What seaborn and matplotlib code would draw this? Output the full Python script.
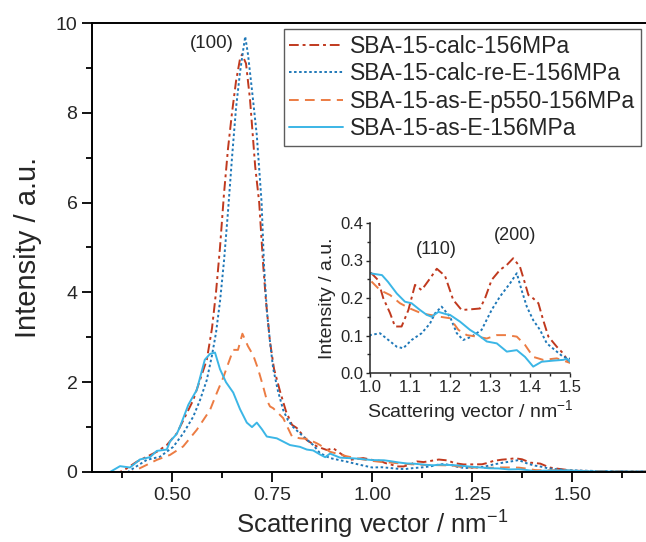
import numpy as np
import pandas as pd
import matplotlib
matplotlib.use("Agg")
import matplotlib.pyplot as plt
from matplotlib.ticker import MultipleLocator, FormatStrFormatter
import seaborn as sns

# SAXS curves (x in nm^-1, intensity in a.u.)
calc_x = [0.30, 0.37, 0.387, 0.412, 0.437, 0.462, 0.487, 0.512, 0.537, 0.553, 0.57,
          0.587, 0.60, 0.61, 0.62, 0.63, 0.64, 0.65, 0.66, 0.67, 0.675, 0.685, 0.695,
          0.708, 0.718, 0.728, 0.735, 0.745, 0.755, 0.77, 0.785, 0.80, 0.812, 0.837,
          0.862, 0.887, 0.903, 0.92, 0.945, 0.978, 1.0, 1.02, 1.033, 1.05, 1.0625,
          1.079, 1.096, 1.1125, 1.129, 1.15, 1.167, 1.1875, 1.208, 1.229, 1.254,
          1.275, 1.2875, 1.304, 1.325, 1.342, 1.358, 1.375, 1.3875, 1.396, 1.408,
          1.421, 1.433, 1.446, 1.467, 1.483, 1.496, 1.52, 1.55, 1.6, 1.65, 1.7]
calc_y = [0, 0, 0.08, 0.23, 0.34, 0.45, 0.6, 0.86, 1.31, 1.6, 2.05,
          2.5, 3.2, 4.0, 5.0, 6.2, 7.2, 8.0, 8.7, 9.2, 9.3, 9.1, 8.3,
          6.8, 6.0, 4.6, 3.8, 2.9, 2.3, 1.8, 1.35, 1.05, 0.98, 0.71,
          0.57, 0.49, 0.53, 0.42, 0.27, 0.31, 0.27, 0.248, 0.2, 0.16, 0.124,
          0.124, 0.168, 0.235, 0.221, 0.252, 0.278, 0.259, 0.195, 0.168, 0.17,
          0.172, 0.199, 0.248, 0.275, 0.288, 0.306, 0.283, 0.239, 0.208, 0.199,
          0.186, 0.141, 0.097, 0.07, 0.052, 0.03, 0.025, 0.02, 0.015, 0.01, 0.01]

re_x = [0.30, 0.39, 0.403, 0.437, 0.47, 0.503, 0.528, 0.553, 0.57, 0.587, 0.60,
        0.61, 0.62, 0.63, 0.64, 0.65, 0.66, 0.67, 0.678, 0.683, 0.69, 0.70, 0.712,
        0.724, 0.73, 0.737, 0.745, 0.753, 0.765, 0.778, 0.79, 0.803, 0.828, 0.853,
        0.87, 0.895, 0.937, 0.97, 1.0, 1.025, 1.046, 1.067, 1.083, 1.104, 1.129,
        1.15, 1.1625, 1.179, 1.2, 1.217, 1.233, 1.254, 1.279, 1.304, 1.325, 1.35,
        1.367, 1.379, 1.392, 1.408, 1.425, 1.442, 1.467, 1.483, 1.5, 1.53, 1.57,
        1.62, 1.7]
re_y = [0, 0, 0.08, 0.27, 0.34, 0.56, 0.86, 1.23, 1.6, 2.05, 2.6,
        3.1, 3.8, 4.7, 5.8, 7.0, 8.1, 8.9, 9.4, 9.7, 9.3, 8.5, 7.5,
        6.0, 4.6, 3.6, 2.9, 2.3, 1.8, 1.38, 1.15, 1.0, 0.79, 0.6,
        0.42, 0.31, 0.23, 0.16, 0.101, 0.106, 0.088, 0.07, 0.066, 0.088, 0.106,
        0.132, 0.159, 0.177, 0.15, 0.106, 0.088, 0.097, 0.115, 0.168, 0.204, 0.239,
        0.266, 0.221, 0.177, 0.141, 0.115, 0.079, 0.057, 0.043, 0.038, 0.03, 0.02,
        0.012, 0.01]

p550_x = [0.30, 0.40, 0.428, 0.462, 0.495, 0.528, 0.562, 0.595, 0.612, 0.628, 0.64,
          0.653, 0.665, 0.676, 0.69, 0.703, 0.715, 0.728, 0.737, 0.745, 0.753, 0.778,
          0.80, 0.82, 0.837, 0.862, 0.87, 0.895, 0.937, 0.97, 1.0, 1.025, 1.05,
          1.075, 1.1, 1.129, 1.15, 1.175, 1.2, 1.221, 1.242, 1.267, 1.292, 1.317,
          1.342, 1.367, 1.3875, 1.408, 1.433, 1.467, 1.5, 1.53, 1.57, 1.62, 1.7]
p550_y = [0, 0, 0.12, 0.27, 0.38, 0.57, 0.94, 1.38, 1.76, 2.1, 2.4,
          2.72, 2.72, 3.08, 2.8, 2.6, 2.3, 1.9, 1.6, 1.46, 1.42, 1.2,
          0.79, 0.75, 0.74, 0.64, 0.6, 0.45, 0.35, 0.29, 0.248, 0.221, 0.208,
          0.186, 0.172, 0.159, 0.155, 0.15, 0.146, 0.115, 0.101, 0.097, 0.092, 0.101,
          0.101, 0.097, 0.075, 0.043, 0.035, 0.039, 0.027, 0.02, 0.015, 0.01, 0.01]

as_x = [0.30, 0.345, 0.37, 0.395, 0.42, 0.445, 0.462, 0.487, 0.495, 0.512, 0.52,
        0.541, 0.562, 0.582, 0.595, 0.6075, 0.62, 0.635, 0.653, 0.67, 0.687, 0.70,
        0.712, 0.725, 0.737, 0.762, 0.795, 0.82, 0.837, 0.853, 0.87, 0.883, 0.895,
        0.92, 0.96, 1.0, 1.03, 1.045, 1.067, 1.0875, 1.104, 1.125, 1.142, 1.154,
        1.171, 1.19, 1.2, 1.225, 1.25, 1.271, 1.292, 1.317, 1.342, 1.367, 1.3875,
        1.408, 1.429, 1.458, 1.483, 1.492, 1.5, 1.53, 1.57, 1.62, 1.7]
as_y = [0, 0, 0.13, 0.1, 0.28, 0.33, 0.47, 0.5, 0.68, 0.85, 1.01,
        1.5, 1.83, 2.5, 2.63, 2.66, 2.29, 2.0, 1.77, 1.4, 1.1, 1.0,
        1.1, 0.95, 0.79, 0.75, 0.6, 0.56, 0.5, 0.48, 0.39, 0.33, 0.41,
        0.32, 0.3, 0.266, 0.261, 0.243, 0.212, 0.19, 0.186, 0.168, 0.155, 0.15,
        0.163, 0.157, 0.155, 0.137, 0.115, 0.101, 0.084, 0.079, 0.057, 0.061, 0.043,
        0.017, 0.03, 0.033, 0.035, 0.038, 0.03, 0.02, 0.012, 0.01, 0.008]

labels = ["SBA-15-calc-156MPa", "SBA-15-calc-re-E-156MPa",
          "SBA-15-as-E-p550-156MPa", "SBA-15-as-E-156MPa"]
colors = ["#C0391E", "#1F78B8", "#EC7C43", "#3BB6E6"]
styles = [(0, (5, 2, 1.5, 2)), (0, (1.3, 1.3)), (0, (5, 3.2)), "-"]

series = [(calc_x, calc_y), (re_x, re_y), (p550_x, p550_y), (as_x, as_y)]

sns.set_style("ticks")
plt.rcParams["font.family"] = ["Liberation Sans", "DejaVu Sans"]
plt.rcParams["mathtext.fontset"] = "custom"
plt.rcParams["mathtext.rm"] = "Liberation Sans"
plt.rcParams["mathtext.default"] = "regular"
plt.rcParams["axes.linewidth"] = 1.4

fig = plt.figure(figsize=(6.46, 5.42), dpi=100)
ax = fig.add_axes([92 / 646, 70 / 542, 560 / 646, 449 / 542])

for (x, y), lab, c, ls in zip(series, labels, colors, styles):
    df = pd.DataFrame({"q": x, "I": y})
    sns.lineplot(data=df, x="q", y="I", ax=ax, color=c, linestyle=ls,
                 linewidth=1.4, label=lab, sort=False, estimator=None)

ax.set_xlim(0.30, 1.70)
ax.set_ylim(0, 10)
ax.xaxis.set_major_locator(MultipleLocator(0.25))
ax.xaxis.set_minor_locator(MultipleLocator(0.125))
ax.xaxis.set_major_formatter(FormatStrFormatter("%.2f"))
ax.yaxis.set_major_locator(MultipleLocator(2))
ax.yaxis.set_minor_locator(MultipleLocator(1))
ax.tick_params(which="major", length=7, width=1.3, labelsize=14, color="black")
ax.tick_params(which="minor", length=4.5, width=1.3, color="black")
ax.spines["right"].set_visible(False)
for s in ["top", "left", "bottom"]:
    ax.spines[s].set_color("black")
ax.set_xlabel("Scattering vector / nm$^{-1}$", fontsize=18.5, labelpad=4)
ax.set_ylabel("Intensity / a.u.", fontsize=21, labelpad=10)
ax.text(0.655, 9.55, "(100)", fontsize=13.5, ha="right", va="center")

leg = ax.legend(loc="upper right", bbox_to_anchor=(641 / 646, 1 - 29 / 542),
                bbox_transform=fig.transFigure, fontsize=16.5, frameon=True,
                fancybox=False, edgecolor="#333333", handlelength=2.35,
                handletextpad=0.3, labelspacing=0.2, borderpad=0.25,
                borderaxespad=0)
leg.get_frame().set_linewidth(1.0)

# inset zoom on the higher order reflections
ins = fig.add_axes([370 / 646, 1 - 373 / 542, 200 / 646, 150 / 542])
for (x, y), c, ls in zip(series, colors, styles):
    df = pd.DataFrame({"q": x, "I": y})
    sns.lineplot(data=df, x="q", y="I", ax=ins, color=c, linestyle=ls,
                 linewidth=1.4, legend=False, sort=False, estimator=None)
ins.set_xlim(1.0, 1.5)
ins.set_ylim(0, 0.4)
ins.xaxis.set_major_locator(MultipleLocator(0.1))
ins.xaxis.set_minor_locator(MultipleLocator(0.05))
ins.yaxis.set_major_locator(MultipleLocator(0.1))
ins.yaxis.set_minor_locator(MultipleLocator(0.05))
ins.xaxis.set_major_formatter(FormatStrFormatter("%.1f"))
ins.yaxis.set_major_formatter(FormatStrFormatter("%.1f"))
ins.tick_params(which="major", length=3, width=1, labelsize=12, pad=2)
ins.tick_params(which="minor", length=2, width=1)
ins.spines["top"].set_visible(False)
ins.spines["right"].set_visible(False)
ins.spines["left"].set_linewidth(1.1)
ins.spines["bottom"].set_linewidth(1.1)
ins.patch.set_alpha(0)
ins.set_xlabel("Scattering vector / nm$^{-1}$", fontsize=14, labelpad=2)
ins.set_ylabel("Intensity / a.u.", fontsize=14, labelpad=3)
ins.text(1.167, 0.328, "(110)", fontsize=13, ha="center", va="center")
ins.text(1.3625, 0.368, "(200)", fontsize=13, ha="center", va="center")

fig.savefig("out.png", dpi=100)
